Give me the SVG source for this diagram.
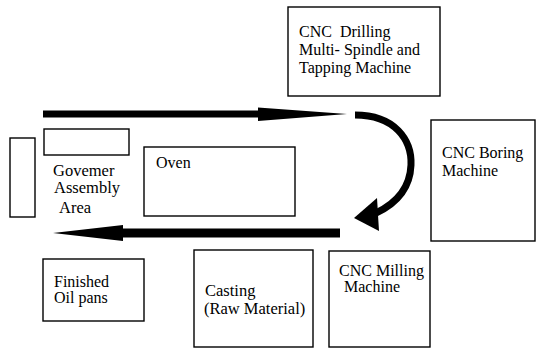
<svg xmlns="http://www.w3.org/2000/svg" width="537" height="349" viewBox="0 0 537 349">
<defs>
<rect id="unused-def" width="0" height="0"/>
</defs>
<rect width="537" height="349" fill="#fff"/>
<g id="drilling">
<rect x="288" y="7" width="152" height="89" fill="#fff" stroke="#000" stroke-width="1.4"/>
<text x="299" y="37" font-family="Liberation Serif" font-size="16" word-spacing="4">CNC Drilling</text>
<text x="299" y="55" font-family="Liberation Serif" font-size="16">Multi- Spindle and</text>
<text x="299" y="73" font-family="Liberation Serif" font-size="16">Tapping Machine</text>
</g>
<g id="boring">
<rect x="431" y="120" width="104" height="121" fill="#fff" stroke="#000" stroke-width="1.4"/>
<text x="442" y="158" font-family="Liberation Serif" font-size="16">CNC Boring</text>
<text x="442" y="176" font-family="Liberation Serif" font-size="16">Machine</text>
</g>
<g id="governor-small">
<rect x="44" y="129" width="85" height="26" fill="#fff" stroke="#000" stroke-width="1.4"/>
</g>
<g id="governor-tall">
<rect x="10" y="138" width="25" height="79" fill="#fff" stroke="#000" stroke-width="1.4"/>
</g>
<g id="governor-label">
<text x="53" y="176" font-family="Liberation Serif" font-size="16.5">Govemer</text>
<text x="54" y="193" font-family="Liberation Serif" font-size="16.5">Assembly</text>
<text x="59" y="213" font-family="Liberation Serif" font-size="16.5">Area</text>
</g>
<g id="oven">
<rect x="144" y="147" width="151" height="69" fill="#fff" stroke="#000" stroke-width="1.4"/>
<text x="156" y="168" font-family="Liberation Serif" font-size="16">Oven</text>
</g>
<g id="finished">
<rect x="43" y="259" width="101" height="62" fill="#fff" stroke="#000" stroke-width="1.4"/>
<text x="54" y="287" font-family="Liberation Serif" font-size="16">Finished</text>
<text x="54" y="303" font-family="Liberation Serif" font-size="16">Oil pans</text>
</g>
<g id="casting">
<rect x="194" y="250" width="119" height="97" fill="#fff" stroke="#000" stroke-width="1.4"/>
<text x="205" y="296" font-family="Liberation Serif" font-size="16.5">Casting</text>
<text x="204" y="314" font-family="Liberation Serif" font-size="16.5">(Raw Material)</text>
</g>
<g id="milling">
<rect x="329" y="251" width="101" height="96" fill="#fff" stroke="#000" stroke-width="1.4"/>
<text x="339" y="276" font-family="Liberation Serif" font-size="16">CNC Milling</text>
<text x="344" y="292" font-family="Liberation Serif" font-size="16">Machine</text>
</g>
<g id="connectors" fill="#000">
<rect x="43" y="110.5" width="222" height="7"/>
<polygon points="258,107.5 347,114 258,121"/>
<path d="M355,115 C395,115 412,140 411,165 C410,190 395,204 376,213" fill="none" stroke="#000" stroke-width="7"/>
<polygon points="354,218 377,198 379,231"/>
<rect x="118" y="228.5" width="222" height="9"/>
<polygon points="53,233 123,225 123,241"/>
</g>
</svg>
